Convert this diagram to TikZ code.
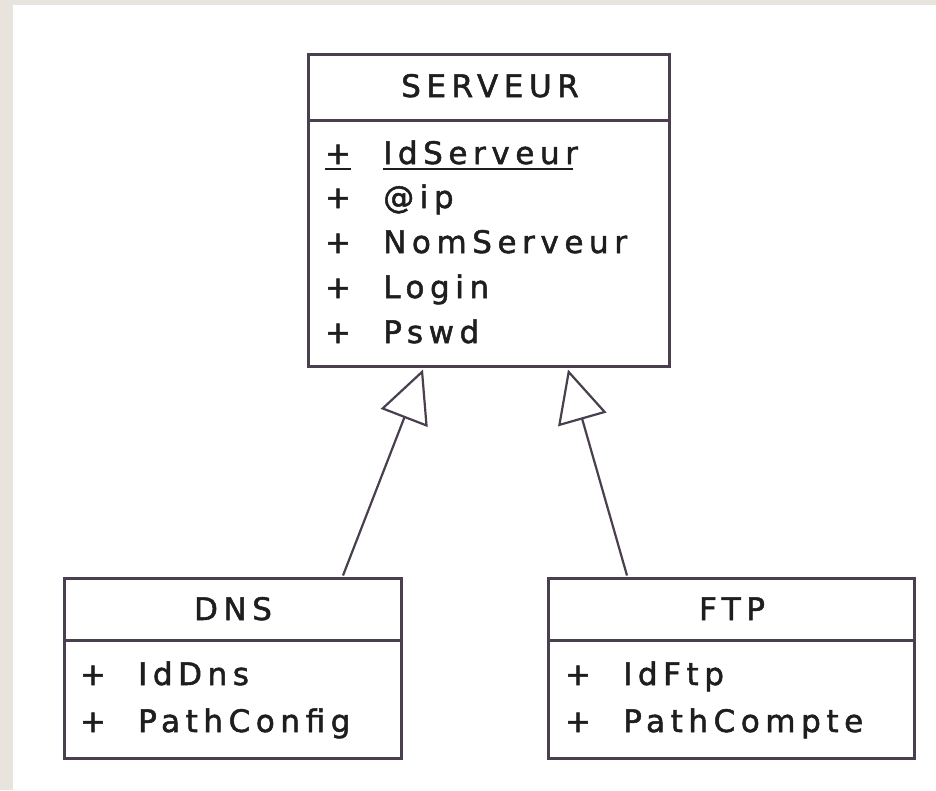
\documentclass[tikz,border=0pt]{standalone}
\usepackage{fontspec}
\setmainfont{DejaVu Sans}
\newfontfamily\umlfont[LetterSpace=18,FakeBold=1.6]{DejaVu Sans}
\usetikzlibrary{arrows.meta}
\definecolor{umlline}{HTML}{4A3F4F}
\definecolor{umltext}{HTML}{1E1E1E}
\definecolor{pagerim}{HTML}{E8E4DD}
\begin{document}
\begin{tikzpicture}[x=1pt,y=-1pt,
  classbox/.style={draw=umlline, line width=3pt, fill=white, rectangle,
    inner sep=0pt, anchor=north west},
  sepline/.style={draw=umlline, line width=3pt},
  umltxt/.style={font=\umlfont\fontsize{31}{37}\selectfont, text=umltext, inner sep=0pt},
  title/.style={umltxt, anchor=base},
  attr/.style={umltxt, anchor=base west},
  vis/.style={umltxt, anchor=base},
  staticline/.style={draw=umltext, line width=2.2pt},
  inherit/.style={draw=umlline, line width=2.2pt,
    -{Triangle[open, length=52pt, width=50pt]}}
]
% page and rim
\useasboundingbox (0,0) rectangle (936,790);
\fill[white] (0,0) rectangle (936,790);
\fill[pagerim] (0,0) rectangle (936,5);
\fill[pagerim] (0,0) rectangle (13,790);

% class SERVEUR
\node[classbox, minimum width=361pt, minimum height=312pt] (srv) at (307,53) {};
\draw[sepline] ([yshift=-67pt]srv.north west) -- ([yshift=-67pt]srv.north east);
\node[title] (srvName) at (490,97) {SERVEUR};
\node[vis]  (srvV1) at (338,164) {+};
\node[attr] (srvA1) at (383,164) {IdServeur};
\node[vis]  (srvV2) at (338,208) {+};
\node[attr] (srvA2) at (383,208) {@ip};
\node[vis]  (srvV3) at (338,253) {+};
\node[attr] (srvA3) at (383,253) {NomServeur};
\node[vis]  (srvV4) at (338,298) {+};
\node[attr] (srvA4) at (383,298) {Login};
\node[vis]  (srvV5) at (338,343) {+};
\node[attr] (srvA5) at (383,343) {Pswd};
% static attribute: underlined
\draw[staticline] ([yshift=-5pt]srvV1.base west) -- ([yshift=-5pt]srvV1.base east);
\draw[staticline] ([yshift=-5pt]srvA1.base west) -- ([xshift=-5pt,yshift=-5pt]srvA1.base east);

% class DNS
\node[classbox, minimum width=337pt, minimum height=180pt] (dns) at (63,577) {};
\draw[sepline] ([yshift=-63pt]dns.north west) -- ([yshift=-63pt]dns.north east);
\node[title] (dnsName) at (233,620) {DNS};
\node[vis]  (dnsV1) at (93,685) {+};
\node[attr] (dnsA1) at (138,685) {IdDns};
\node[vis]  (dnsV2) at (93,732) {+};
\node[attr] (dnsA2) at (138,732) {PathConfig};

% class FTP
\node[classbox, minimum width=366pt, minimum height=180pt] (ftp) at (547,577) {};
\draw[sepline] ([yshift=-63pt]ftp.north west) -- ([yshift=-63pt]ftp.north east);
\node[title] (ftpName) at (732,620) {FTP};
\node[vis]  (ftpV1) at (578,685) {+};
\node[attr] (ftpA1) at (623,685) {IdFtp};
\node[vis]  (ftpV2) at (578,732) {+};
\node[attr] (ftpA2) at (623,732) {PathCompte};

% generalisations
\draw[inherit] ([xshift=280pt,yshift=1.5pt]dns.north west) -- ([xshift=116pt,yshift=-1.5pt]srv.south west);
\draw[inherit] ([xshift=80pt,yshift=1.5pt]ftp.north west) -- ([xshift=261pt,yshift=-1.5pt]srv.south west);
\end{tikzpicture}
\end{document}
